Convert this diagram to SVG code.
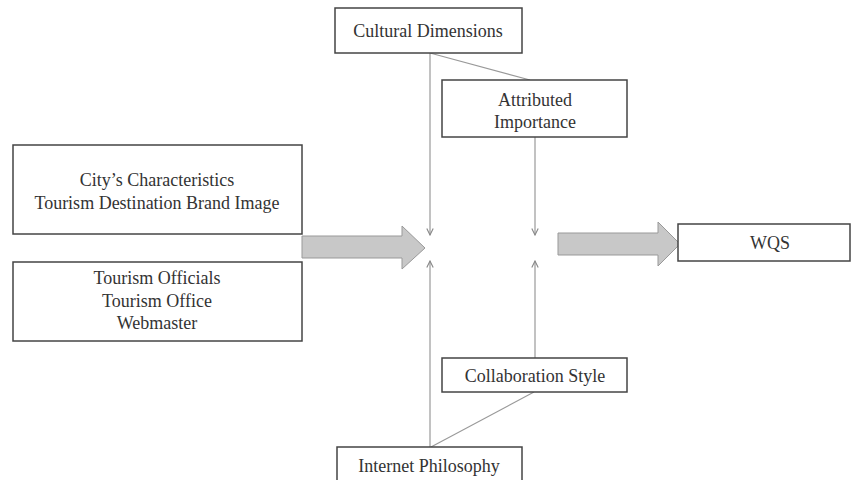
<svg xmlns="http://www.w3.org/2000/svg" width="852" height="480" viewBox="0 0 852 480">
<defs>
<style>
.box{fill:#fff;stroke:#444;stroke-width:1.5}
.t{font-family:"Liberation Serif","Times New Roman",serif;font-size:18px;fill:#333;text-anchor:middle}
.ln{stroke:#999;stroke-width:1.2;fill:none}
.big{fill:#c8c8c8;stroke:#999;stroke-width:1}
</style>
<marker id="v" viewBox="0 0 10 10" refX="9" refY="5" markerWidth="8" markerHeight="8" markerUnits="userSpaceOnUse" orient="auto">
<polyline points="1,1 9,5 1,9" fill="none" stroke="#888" stroke-width="1.4"/>
</marker>
</defs>
<rect width="852" height="480" fill="#fff"/>
<g id="connectors">
<line class="ln" x1="430" y1="53" x2="430" y2="235" marker-end="url(#v)"/>
<line class="ln" x1="430" y1="53" x2="530" y2="80"/>
<line class="ln" x1="535" y1="137" x2="535" y2="235" marker-end="url(#v)"/>
<line class="ln" x1="430" y1="447" x2="430" y2="261" marker-end="url(#v)"/>
<line class="ln" x1="535" y1="358" x2="535" y2="261" marker-end="url(#v)"/>
<line class="ln" x1="431" y1="447" x2="534" y2="392"/>
<polygon class="big" points="302,236 402,236 402,226 425,248 402,269 402,258 302,258"/>
<polygon class="big" points="558,233 658,233 658,222 680,244 658,266 658,255 558,255"/>
</g>
<g id="cultural">
<rect class="box" x="335" y="8" width="187" height="45"/>
<text class="t" x="428" y="37">Cultural Dimensions</text>
</g>
<g id="attributed">
<rect class="box" x="442" y="80" width="185" height="57"/>
<text class="t" x="535" y="106">Attributed</text>
<text class="t" x="535" y="128">Importance</text>
</g>
<g id="city">
<rect class="box" x="13" y="145" width="289" height="89"/>
<text class="t" x="157" y="186">City’s Characteristics</text>
<text class="t" x="157" y="209">Tourism Destination Brand Image</text>
</g>
<g id="officials">
<rect class="box" x="13" y="262" width="289" height="79"/>
<text class="t" x="157" y="284">Tourism Officials</text>
<text class="t" x="157" y="307">Tourism Office</text>
<text class="t" x="157" y="329">Webmaster</text>
</g>
<g id="wqs">
<rect class="box" x="678" y="224" width="172" height="37"/>
<text class="t" x="770" y="249">WQS</text>
</g>
<g id="collaboration">
<rect class="box" x="442" y="358" width="185" height="34"/>
<text class="t" x="535" y="382">Collaboration Style</text>
</g>
<g id="internet">
<rect class="box" x="337" y="447" width="185" height="40"/>
<text class="t" x="429" y="472">Internet Philosophy</text>
</g>
</svg>
